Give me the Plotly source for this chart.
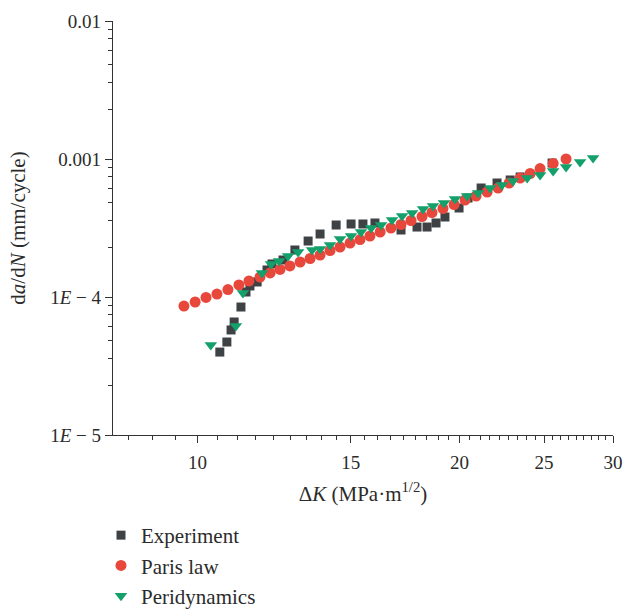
import plotly.graph_objects as go
import numpy as np

# ---------------- data ----------------
exp_dk = [10.61, 10.81, 10.93, 11.02, 11.22, 11.37, 11.49, 11.71, 12.02, 12.18,
          12.54, 12.94, 13.40, 13.83, 14.43, 15.01, 15.49, 15.99, 17.13, 17.87,
          18.35, 18.79, 19.24, 19.97, 20.45, 21.17, 22.08, 22.86, 23.47, 25.54]
exp_rate = [3.99e-5, 4.72e-5, 5.77e-5, 6.59e-5, 8.46e-5, 1.087e-4, 1.202e-4, 1.285e-4, 1.570e-4, 1.735e-4,
            1.854e-4, 2.191e-4, 2.545e-4, 2.861e-4, 3.324e-4, 3.381e-4, 3.381e-4, 3.438e-4, 3.058e-4, 3.214e-4,
            3.214e-4, 3.438e-4, 3.799e-4, 4.415e-4, 5.216e-4, 6.164e-4, 6.70e-4, 7.045e-4, 7.41e-4, 9.35e-4]

paris_dk = [9.65, 9.94, 10.23, 10.53, 10.84, 11.16, 11.46, 11.80, 12.12, 12.44,
            12.77, 13.12, 13.47, 13.83, 14.20, 14.58, 14.97, 15.37, 15.78, 16.21,
            16.68, 17.13, 17.59, 18.11, 18.59, 19.14, 19.71, 20.29, 20.89, 21.51,
            22.14, 22.80, 23.47, 24.10, 24.74, 25.61, 26.50]
paris_rate = [8.60e-5, 9.20e-5, 9.92e-5, 1.051e-4, 1.133e-4, 1.222e-4, 1.306e-4, 1.396e-4, 1.493e-4, 1.583e-4,
              1.678e-4, 1.793e-4, 1.901e-4, 2.015e-4, 2.173e-4, 2.303e-4, 2.461e-4, 2.609e-4, 2.767e-4, 2.958e-4,
              3.162e-4, 3.352e-4, 3.583e-4, 3.831e-4, 4.095e-4, 4.378e-4, 4.680e-4, 5.045e-4, 5.394e-4, 5.766e-4,
              6.164e-4, 6.70e-4, 7.28e-4, 7.85e-4, 8.53e-4, 9.28e-4, 1.0e-3]

peri_dk = [10.36, 11.07, 11.28, 11.86, 12.15, 12.41, 12.71, 13.05, 13.54, 13.83,
           14.20, 14.58, 15.01, 15.41, 15.83, 16.25, 16.73, 17.18, 17.64, 18.16,
           18.64, 19.19, 19.76, 20.40, 21.00, 21.68, 22.37, 23.03, 23.91, 24.74,
           25.61, 26.50, 27.50, 28.46]
peri_rate = [4.49e-5, 6.16e-5, 1.069e-4, 1.493e-4, 1.735e-4, 1.824e-4, 1.982e-4, 2.119e-4, 2.191e-4, 2.228e-4,
             2.381e-4, 2.632e-4, 2.767e-4, 2.958e-4, 3.162e-4, 3.324e-4, 3.614e-4, 3.864e-4, 4.062e-4, 4.343e-4,
             4.565e-4, 4.80e-4, 5.13e-4, 5.394e-4, 5.672e-4, 6.164e-4, 6.48e-4, 6.93e-4, 7.28e-4, 7.66e-4,
             8.18e-4, 8.75e-4, 9.51e-4, 1.017e-3]

x_tickvals = [10, 15, 20, 25, 30]
x_ticktext = ["10", "15", "20", "25", "30"]
y_tickvals = [1e-5, 1e-4, 1e-3, 1e-2]
y_ticktext = ["1<i>E</i> − 5", "1<i>E</i> − 4", "0.001", "0.01"]

# minor ticks: 8 between x majors, 6 per y decade
x_minor = [5 + k * 5 / 9 for k in range(1, 50)]
x_minor = [v for v in x_minor if 8 < v < 30 and all(abs(v - t) > 1e-6 for t in x_tickvals)]
y_minor = [d * (1 + k * 9 / 7) for d in (1e-5, 1e-4, 1e-3) for k in range(1, 7)]

FONT = "Liberation Serif"
TXT = "#2b2b2b"
AX = "#333333"
GRAY = "#3f4244"
RED = "#e8473c"
GREEN = "#13a06b"

fig = go.Figure()
fig.add_trace(go.Scatter(x=exp_dk, y=exp_rate, mode="markers", name="Experiment",
                         legendgroup="a",
                         marker=dict(symbol="square", size=9, color=GRAY)))
fig.add_trace(go.Scatter(x=paris_dk, y=paris_rate, mode="markers", name="Paris law",
                         legendgroup="b",
                         marker=dict(symbol="circle", size=11, color=RED)))
fig.add_trace(go.Scatter(x=peri_dk, y=peri_rate, mode="markers", name="Peridynamics",
                         legendgroup="c",
                         marker=dict(symbol="triangle-down", size=11, color=GREEN)))

axis_common = dict(
    showgrid=False, zeroline=False, showline=True, linecolor=AX, linewidth=1.3,
    ticks="outside", ticklen=7, tickwidth=1.3, tickcolor=AX,
    tickfont=dict(family=FONT, size=19, color=TXT),
    mirror=False, automargin=False,
)

fig.update_xaxes(type="log", range=[np.log10(8), np.log10(30)],
                 tickmode="array", tickvals=x_tickvals, ticktext=x_ticktext,
                 ticklabelstandoff=3,
                 minor=dict(tickmode="array", tickvals=x_minor, ticks="outside",
                            ticklen=4, tickwidth=1.1, tickcolor=AX),
                 title=dict(text="Δ<i>K</i> (MPa·m<sup>1/2</sup>)",
                            font=dict(family=FONT, size=21, color=TXT), standoff=14),
                 **axis_common)
fig.update_yaxes(type="log", range=[-5, -2],
                 tickmode="array", tickvals=y_tickvals, ticktext=y_ticktext,
                 minor=dict(tickmode="array", tickvals=y_minor, ticks="outside",
                            ticklen=4, tickwidth=1.1, tickcolor=AX),
                 title=dict(text="d<i>a</i>/d<i>N</i> (mm/cycle)",
                            font=dict(family=FONT, size=21, color=TXT), standoff=18),
                 **axis_common)

fig.update_layout(
    width=641, height=610,
    margin=dict(l=113, r=28, t=21, b=175, autoexpand=False),
    plot_bgcolor="white", paper_bgcolor="white",
    font=dict(family=FONT, size=19, color=TXT),
    showlegend=True,
    legend=dict(x=-0.024, xanchor="left", y=(435 - 515) / 414, yanchor="top",
                font=dict(family=FONT, size=21, color=TXT),
                tracegroupgap=0, bgcolor="rgba(0,0,0,0)"),
)

fig.write_html("out.html")
